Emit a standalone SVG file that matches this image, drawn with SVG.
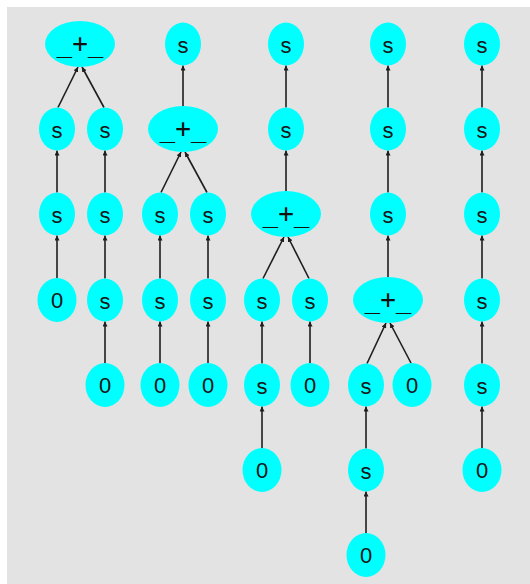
<svg xmlns="http://www.w3.org/2000/svg" width="530" height="584" viewBox="0 0 530 584">
<style>
.n{fill:#00ffff;stroke:none}
.t{font-family:"Liberation Sans",Arial,sans-serif;font-size:22px;fill:#161616;text-anchor:middle}
.p{font-family:"DejaVu Sans Mono",monospace;font-size:26px;fill:#111;text-anchor:middle}
.e line{stroke:#1e1e1e;stroke-width:1.6;marker-end:url(#ah)}
</style>
<defs>
<marker id="ah" markerUnits="userSpaceOnUse" markerWidth="7" markerHeight="7" refX="5" refY="2.5" orient="auto">
<path d="M0,0 L5,2.5 L0,5 Z" fill="#1e1e1e"/>
</marker>
</defs>
<rect x="7" y="7" width="523" height="577" fill="#e3e3e3"/>
<g id="connectors" class="e">
<line x1="58" y1="107.5" x2="78" y2="67"/>
<line x1="104" y1="107.5" x2="82" y2="67"/>
<line x1="57" y1="192.5" x2="57" y2="150.5"/>
<line x1="57" y1="278" x2="57" y2="235.5"/>
<line x1="105" y1="192.5" x2="105" y2="150.5"/>
<line x1="105" y1="278.5" x2="105" y2="235.5"/>
<line x1="105" y1="363" x2="105" y2="321.5"/>
<line x1="183" y1="106" x2="183" y2="65.5"/>
<line x1="161" y1="192.5" x2="181" y2="152"/>
<line x1="207" y1="192.5" x2="185" y2="152"/>
<line x1="160" y1="278.5" x2="160" y2="235.5"/>
<line x1="160" y1="363" x2="160" y2="321.5"/>
<line x1="208" y1="278.5" x2="208" y2="235.5"/>
<line x1="208" y1="363" x2="208" y2="321.5"/>
<line x1="286" y1="107.5" x2="286" y2="65.5"/>
<line x1="286" y1="191" x2="286" y2="150.5"/>
<line x1="263" y1="278.5" x2="284" y2="237"/>
<line x1="309" y1="278.5" x2="288" y2="237"/>
<line x1="262" y1="363.5" x2="262" y2="321.5"/>
<line x1="262" y1="448" x2="262" y2="406.5"/>
<line x1="310" y1="363" x2="310" y2="321.5"/>
<line x1="388" y1="107.5" x2="388" y2="65.5"/>
<line x1="388" y1="192.5" x2="388" y2="150.5"/>
<line x1="388" y1="277" x2="388" y2="235.5"/>
<line x1="367" y1="363.5" x2="386" y2="323"/>
<line x1="411" y1="363" x2="390" y2="323"/>
<line x1="366" y1="448.5" x2="366" y2="406.5"/>
<line x1="366" y1="533" x2="366" y2="491.5"/>
<line x1="482" y1="107.5" x2="482" y2="65.5"/>
<line x1="482" y1="192.5" x2="482" y2="150.5"/>
<line x1="482" y1="278.5" x2="482" y2="235.5"/>
<line x1="482" y1="363.5" x2="482" y2="321.5"/>
<line x1="482" y1="448" x2="482" y2="406.5"/>
</g>
<g id="t1_plus"><ellipse class="n" cx="80" cy="44" rx="35" ry="23"/><text class="p" x="80" y="52">_+_</text></g>
<g id="t1_s1"><ellipse class="n" cx="57" cy="129" rx="18" ry="21.5"/><text class="t" x="57" y="138">s</text></g>
<g id="t1_s2"><ellipse class="n" cx="57" cy="214" rx="18" ry="21.5"/><text class="t" x="57" y="223">s</text></g>
<g id="t1_z1"><ellipse class="n" cx="57" cy="300" rx="19.5" ry="22"/><text class="t" x="57" y="308">0</text></g>
<g id="t1_s3"><ellipse class="n" cx="105" cy="129" rx="18" ry="21.5"/><text class="t" x="105" y="138">s</text></g>
<g id="t1_s4"><ellipse class="n" cx="105" cy="214" rx="18" ry="21.5"/><text class="t" x="105" y="223">s</text></g>
<g id="t1_s5"><ellipse class="n" cx="105" cy="300" rx="18" ry="21.5"/><text class="t" x="105" y="309">s</text></g>
<g id="t1_z2"><ellipse class="n" cx="105" cy="385" rx="19.5" ry="22"/><text class="t" x="105" y="393">0</text></g>
<g id="t2_s0"><ellipse class="n" cx="183" cy="44" rx="18" ry="21.5"/><text class="t" x="183" y="53">s</text></g>
<g id="t2_plus"><ellipse class="n" cx="183" cy="129" rx="35" ry="23"/><text class="p" x="183" y="137">_+_</text></g>
<g id="t2_s1"><ellipse class="n" cx="160" cy="214" rx="18" ry="21.5"/><text class="t" x="160" y="223">s</text></g>
<g id="t2_s2"><ellipse class="n" cx="160" cy="300" rx="18" ry="21.5"/><text class="t" x="160" y="309">s</text></g>
<g id="t2_z1"><ellipse class="n" cx="160" cy="385" rx="19.5" ry="22"/><text class="t" x="160" y="393">0</text></g>
<g id="t2_s3"><ellipse class="n" cx="208" cy="214" rx="18" ry="21.5"/><text class="t" x="208" y="223">s</text></g>
<g id="t2_s4"><ellipse class="n" cx="208" cy="300" rx="18" ry="21.5"/><text class="t" x="208" y="309">s</text></g>
<g id="t2_z2"><ellipse class="n" cx="208" cy="385" rx="19.5" ry="22"/><text class="t" x="208" y="393">0</text></g>
<g id="t3_s0"><ellipse class="n" cx="286" cy="44" rx="18" ry="21.5"/><text class="t" x="286" y="53">s</text></g>
<g id="t3_s1"><ellipse class="n" cx="286" cy="129" rx="18" ry="21.5"/><text class="t" x="286" y="138">s</text></g>
<g id="t3_plus"><ellipse class="n" cx="286" cy="214" rx="35" ry="23"/><text class="p" x="286" y="222">_+_</text></g>
<g id="t3_s2"><ellipse class="n" cx="262" cy="300" rx="18" ry="21.5"/><text class="t" x="262" y="309">s</text></g>
<g id="t3_s3"><ellipse class="n" cx="262" cy="385" rx="18" ry="21.5"/><text class="t" x="262" y="394">s</text></g>
<g id="t3_z1"><ellipse class="n" cx="262" cy="470" rx="19.5" ry="22"/><text class="t" x="262" y="478">0</text></g>
<g id="t3_s4"><ellipse class="n" cx="310" cy="300" rx="18" ry="21.5"/><text class="t" x="310" y="309">s</text></g>
<g id="t3_z2"><ellipse class="n" cx="310" cy="385" rx="19.5" ry="22"/><text class="t" x="310" y="393">0</text></g>
<g id="t4_s0"><ellipse class="n" cx="388" cy="44" rx="18" ry="21.5"/><text class="t" x="388" y="53">s</text></g>
<g id="t4_s1"><ellipse class="n" cx="388" cy="129" rx="18" ry="21.5"/><text class="t" x="388" y="138">s</text></g>
<g id="t4_s2"><ellipse class="n" cx="388" cy="214" rx="18" ry="21.5"/><text class="t" x="388" y="223">s</text></g>
<g id="t4_plus"><ellipse class="n" cx="388" cy="300" rx="35" ry="23"/><text class="p" x="388" y="308">_+_</text></g>
<g id="t4_s3"><ellipse class="n" cx="366" cy="385" rx="18" ry="21.5"/><text class="t" x="366" y="394">s</text></g>
<g id="t4_s4"><ellipse class="n" cx="366" cy="470" rx="18" ry="21.5"/><text class="t" x="366" y="479">s</text></g>
<g id="t4_z1"><ellipse class="n" cx="366" cy="555" rx="19.5" ry="22"/><text class="t" x="366" y="563">0</text></g>
<g id="t4_z2"><ellipse class="n" cx="412" cy="385" rx="19.5" ry="22"/><text class="t" x="412" y="393">0</text></g>
<g id="t5_s0"><ellipse class="n" cx="482" cy="44" rx="18" ry="21.5"/><text class="t" x="482" y="53">s</text></g>
<g id="t5_s1"><ellipse class="n" cx="482" cy="129" rx="18" ry="21.5"/><text class="t" x="482" y="138">s</text></g>
<g id="t5_s2"><ellipse class="n" cx="482" cy="214" rx="18" ry="21.5"/><text class="t" x="482" y="223">s</text></g>
<g id="t5_s3"><ellipse class="n" cx="482" cy="300" rx="18" ry="21.5"/><text class="t" x="482" y="309">s</text></g>
<g id="t5_s4"><ellipse class="n" cx="482" cy="385" rx="18" ry="21.5"/><text class="t" x="482" y="394">s</text></g>
<g id="t5_z1"><ellipse class="n" cx="482" cy="470" rx="19.5" ry="22"/><text class="t" x="482" y="478">0</text></g>
</svg>
